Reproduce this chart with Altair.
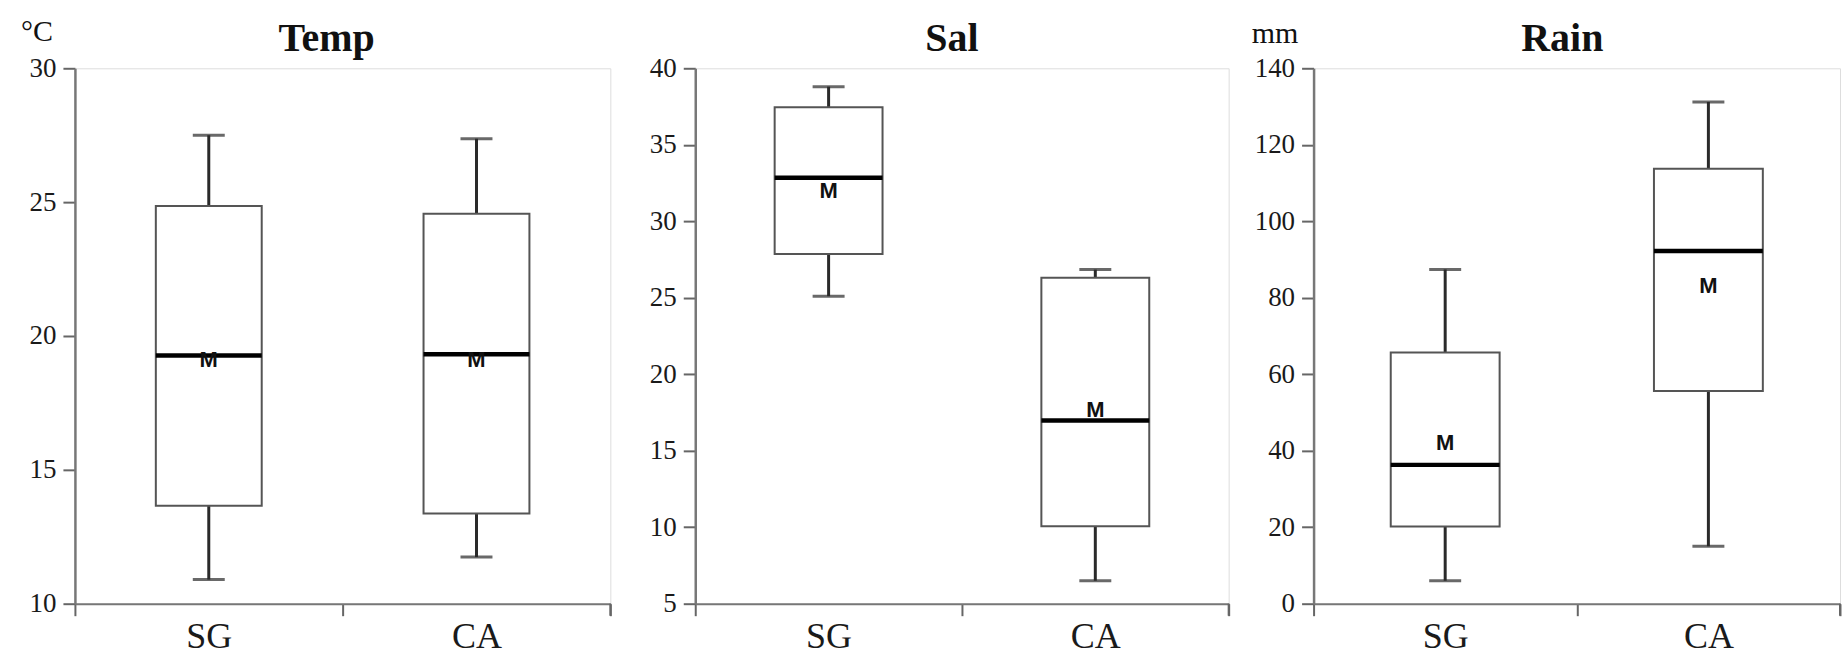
import altair as alt
import pandas as pd

cats = ["SG", "CA"]

temp_lower = [10.9, 11.74]
temp_q1 = [13.66, 13.37]
temp_median = [19.27, 19.32]
temp_q3 = [24.86, 24.57]
temp_upper = [27.5, 27.37]
temp_mean = [19.1, 19.1]

sal_lower = [25.1, 6.5]
sal_q1 = [27.86, 10.07]
sal_median = [32.84, 16.98]
sal_q3 = [37.45, 26.3]
sal_upper = [38.8, 26.84]
sal_mean = [32.0, 17.66]

rain_lower = [6.0, 15.0]
rain_q1 = [20.2, 55.6]
rain_median = [36.3, 92.2]
rain_q3 = [65.7, 113.7]
rain_upper = [87.4, 131.2]
rain_mean = [41.9, 83.2]

SERIF = "Liberation Serif"
SANS = "Liberation Sans"
H = 536


def panel(title, unit, lo, q1, med, q3, hi, mean, domain, step, width,
          box_w, title_x, unit_x, unit_y):
    df = pd.DataFrame({"cat": cats, "lower": lo, "q1": q1, "median": med,
                       "q3": q3, "upper": hi, "mean": mean})
    ticks = list(range(domain[0], domain[1] + 1, step))
    x = alt.X("cat:N", sort=cats,
              scale=alt.Scale(paddingInner=0, paddingOuter=0),
              axis=alt.Axis(title=None, labelAngle=0, tickBand="extent",
                            labelFont=SERIF, labelFontSize=36,
                            labelColor="#1a1a1a", labelPadding=4,
                            tickSize=12, tickColor="#666", tickWidth=2,
                            domainColor="#777", domainWidth=2))
    yscale = alt.Scale(domain=domain, nice=False, zero=False)
    yaxis = alt.Axis(title=None, values=ticks, labelFont=SERIF,
                     labelFontSize=27, labelColor="#1a1a1a",
                     labelPadding=7, tickSize=12, tickColor="#666",
                     tickWidth=2, domainColor="#777", domainWidth=2.5,
                     grid=False)
    base = alt.Chart(df).encode(x=x)
    wl = base.mark_rule(color="#2a2a2a", strokeWidth=3).encode(
        y=alt.Y("lower:Q", scale=yscale, axis=yaxis), y2="q1:Q")
    wh = base.mark_rule(color="#2a2a2a", strokeWidth=3).encode(
        y=alt.Y("q3:Q", scale=yscale, axis=yaxis), y2="upper:Q")
    cap_lo = base.mark_tick(color="#2a2a2a", thickness=3, size=32,
                            orient="horizontal").encode(
        y=alt.Y("lower:Q", scale=yscale, axis=yaxis))
    cap_hi = base.mark_tick(color="#2a2a2a", thickness=3, size=32,
                            orient="horizontal").encode(
        y=alt.Y("upper:Q", scale=yscale, axis=yaxis))
    box = base.mark_bar(fill="white", stroke="#555", strokeWidth=2,
                        width=box_w).encode(
        y=alt.Y("q1:Q", scale=yscale, axis=yaxis), y2="q3:Q")
    medl = base.mark_tick(color="#000", thickness=4.5, size=box_w,
                          orient="horizontal", opacity=1).encode(
        y=alt.Y("median:Q", scale=yscale, axis=yaxis))
    mtxt = base.mark_text(text="M", font=SANS, fontSize=22,
                          fontWeight="bold", color="#111",
                          baseline="middle").encode(
        y=alt.Y("mean:Q", scale=yscale, axis=yaxis))

    tdf = pd.DataFrame({"t": [title], "u": [unit]})
    ttl = alt.Chart(tdf).mark_text(font=SERIF, fontSize=40,
                                   fontWeight="bold", color="#111",
                                   baseline="alphabetic", align="center").encode(
        text="t:N", x=alt.value(title_x), y=alt.value(-17))
    layers = [wl, wh, box, cap_lo, cap_hi, medl, mtxt, ttl]
    if unit:
        un = alt.Chart(tdf).mark_text(font=SERIF, fontSize=30,
                                      color="#111", baseline="alphabetic",
                                      align="left").encode(
            text="u:N", x=alt.value(unit_x), y=alt.value(unit_y))
        layers.append(un)
    endtick = alt.Chart(tdf).mark_rule(color="#666", strokeWidth=2).encode(
        x=alt.value(width), y=alt.value(H), y2=alt.value(H + 12))
    layers.append(endtick)
    return alt.layer(*layers).properties(width=width, height=H)


p1 = panel("Temp", "°C", temp_lower, temp_q1, temp_median, temp_q3,
           temp_upper, temp_mean, [10, 30], 5, 536, 106, 252, -54, -27)
p2 = panel("Sal", "", sal_lower, sal_q1, sal_median, sal_q3,
           sal_upper, sal_mean, [5, 40], 5, 534, 108, 257, 0, 0)
p3 = panel("Rain", "mm", rain_lower, rain_q1, rain_median, rain_q3,
           rain_upper, rain_mean, [0, 140], 20, 527, 109, 249, -62, -25)

chart = alt.hconcat(p1, p2, p3, spacing=85, bounds="flush").properties(
    padding={"left": 20, "top": 16, "right": 0, "bottom": 0}
).configure_view(stroke="#777", strokeWidth=2).configure(background="white")

chart.save("out.html", embed_options={"renderer": "svg", "actions": False})
